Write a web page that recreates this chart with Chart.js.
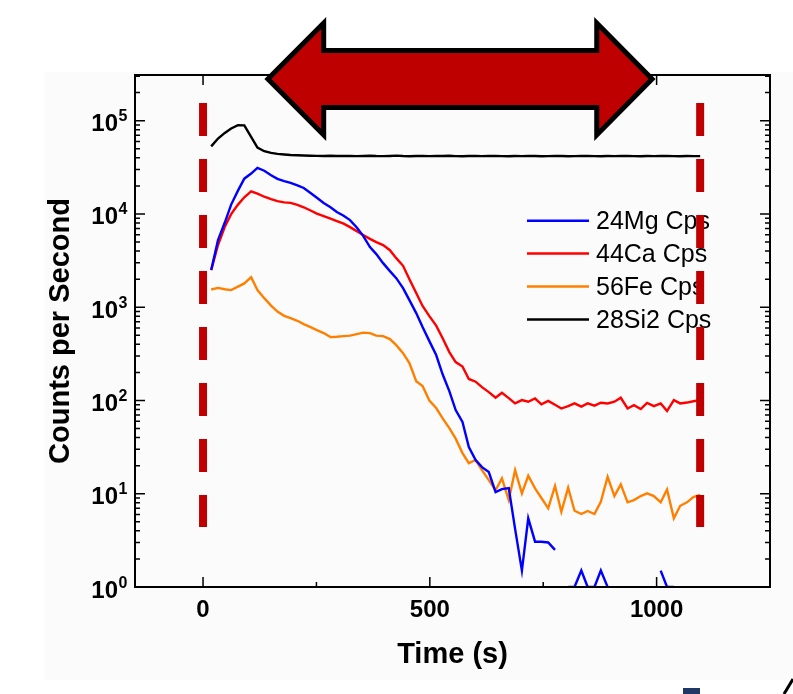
<!DOCTYPE html>
<html>
<head>
<meta charset="utf-8">
<title>Counts per Second</title>
<script src="https://cdn.jsdelivr.net/npm/chart.js@4.4.0/dist/chart.umd.min.js"></script>
<style>
	body { margin: 0; background: #fff; }
	canvas { display: block; }
</style>
</head>
<body>
<canvas id="depthChart" width="793" height="694"></canvas>
<script>
// time axis (s)
const timeS = [
	18, 33, 48, 62, 77, 91, 106, 120, 135, 150,
	164, 179, 193, 208, 222, 237, 251, 266, 281, 295,
	310, 324, 339, 353, 368, 382, 397, 412, 426, 441,
	455, 470, 484, 499, 514, 528, 543, 557, 572, 586,
	601, 615, 630, 645, 659, 674, 688, 703, 717, 732,
	746, 761, 776, 790, 805, 819, 834, 848, 863, 877,
	892, 907, 921, 936, 950, 965, 979, 994, 1009, 1023,
	1038, 1052, 1067, 1081, 1096,
];

const mg24 = [
	2500, 5240, 8090, 12600, 17800, 23900, 27100, 31200, 29100, 26000,
	23800, 22500, 21500, 20300, 19000, 16800, 14900, 13100, 11800, 10500,
	9550, 8590, 7170, 5830, 4410, 3710, 2970, 2440, 2050, 1600,
	1190, 865, 612, 433, 307, 192, 126, 79, 59, 31.7,
	23, 19.3, 17.1, 10.4, 11.2, 11.5, 4.2, 1.5, 5.45, 3.06,
	3.06, 3.0, 2.5, null, 1, 1, 1.5, 1, 1, 1.5,
	1, null, null, null, null, null, null, null, 1.5, 1,
	1, null, null, null, null,
];

const ca44 = [
	2500, 4650, 7280, 9950, 12600, 15100, 17500, 16500, 15300, 14400,
	13700, 13300, 13150, 12500, 11800, 10900, 10100, 9470, 8900, 8370,
	7870, 7220, 6540, 5960, 5410, 4990, 4630, 4090, 3360, 2780,
	2000, 1420, 1030, 803, 635, 467, 330, 258, 231, 170,
	159, 139, 123, 107, 121, 106, 93, 101, 97, 105,
	91, 99, 90, 82, 87, 93, 86, 93, 88, 94.5,
	93, 97, 107, 82, 89, 81, 94, 87, 93, 77,
	101, 93, 95, 98, 101,
];

const fe56 = [
	1550, 1610, 1560, 1525, 1660, 1800, 2100, 1525, 1250, 1040,
	897, 809, 764, 715, 659, 612, 568, 528, 478, 482,
	490, 496, 515, 534, 528, 496, 490, 455, 392, 322,
	252, 161, 143, 99.7, 83, 64.8, 50.6, 39, 27.3, 21.3,
	23, 17.9, 14, 10.9, 14.6, 8.56, 17.9, 10.1, 15.6, 11.4,
	9.0, 6.98, 12.1, 6.41, 11.6, 6.57, 6.06, 6.53, 6.06, 8.2,
	15.2, 9.45, 12.6, 8.09, 8.56, 9.45, 10.1, 9.45, 8.09, 11.1,
	5.45, 7.43, 8.09, 9.2, 9.7,
];

const si28 = [
	53000, 64400, 74000, 82500, 89500, 89000, 67000, 51600, 47100, 45200,
	44100, 43400, 42900, 42600, 42300, 42100, 42000, 41900, 42100, 41800,
	41900, 42000, 41700, 41900, 42100, 41800, 41700, 41900, 42200, 41800,
	41600, 41800, 42000, 41700, 41900, 41800, 42100, 41700, 41600, 41800,
	41900, 41700, 41800, 42000, 41700, 41600, 41800, 41700, 41900, 41800,
	41600, 41700, 41900, 41800, 41600, 41700, 41800, 41900, 41700, 41600,
	41800, 41700, 41900, 41800, 41700, 41600, 41800, 41700, 41900, 41800,
	41700, 41600, 41800, 41700, 41700,
];

const seriesNames = ["24Mg Cps", "44Ca Cps", "56Fe Cps", "28Si2 Cps"];
const seriesValues = [mg24, ca44, fe56, si28];
const seriesColors = ["#0000ff", "#ff0000", "#ff8000", "#000000"];

const xTicks = [0, 500, 1000];
const xMinorTicks = [250, 750];
const yTickExps = [0, 1, 2, 3, 4, 5];

// dashed markers and arrow (time in s)
const markerTimes = [0, 1096];
const markerRange = [155000, 4.4];
const arrowTimes = [143, 266, 868, 990];

const FONT = '"Liberation Sans", Arial, Helvetica, sans-serif';

const toPoints = (ys) => timeS.map((t, i) => ({ x: t, y: ys[i] }));

const drawLegend = (chart) => {
	var ctx = chart.ctx;
	var area = chart.chartArea;
	ctx.save();
	ctx.font = "25px " + FONT;
	ctx.textAlign = "left";
	ctx.textBaseline = "alphabetic";
	seriesNames.forEach((name, i) => {
		var y = 220.7 + 32.9 * i;
		ctx.strokeStyle = seriesColors[i];
		ctx.lineWidth = 2.5;
		ctx.beginPath();
		ctx.moveTo(area.left + 392, y);
		ctx.lineTo(area.left + 454, y);
		ctx.stroke();
		ctx.fillStyle = "#000";
		ctx.fillText(name, area.left + 461, y + 8.5);
	});
	ctx.restore();
};

const drawAxes = (chart) => {
	var ctx = chart.ctx;
	var a = chart.chartArea;
	var xs = chart.scales.x;
	var ys = chart.scales.y;
	ctx.save();
	ctx.strokeStyle = "#000";
	ctx.lineWidth = 2;
	ctx.strokeRect(a.left, a.top, a.right - a.left, a.bottom - a.top);

	ctx.lineWidth = 1.5;
	ctx.beginPath();
	xTicks.concat(xMinorTicks).forEach((v) => {
		var x = xs.getPixelForValue(v);
		var len = xTicks.includes(v) ? 10 : 5;
		ctx.moveTo(x, a.bottom);
		ctx.lineTo(x, a.bottom - len);
		ctx.moveTo(x, a.top);
		ctx.lineTo(x, a.top + len);
	});
	yTickExps.forEach((e) => {
		for (var m = 1; m <= 9; m++) {
			var v = m * Math.pow(10, e);
			if (v > ys.max) break;
			var y = ys.getPixelForValue(v);
			var len = m === 1 ? 10 : 5;
			ctx.moveTo(a.left, y);
			ctx.lineTo(a.left + len, y);
			ctx.moveTo(a.right, y);
			ctx.lineTo(a.right - len, y);
		}
	});
	ctx.stroke();

	// y labels as 10 with superscript exponent
	ctx.fillStyle = "#000";
	yTickExps.forEach((e) => {
		var y = ys.getPixelForValue(Math.pow(10, e));
		ctx.font = "bold 24px " + FONT;
		ctx.textAlign = "right";
		ctx.textBaseline = "alphabetic";
		ctx.fillText("10", a.left - 17, y + 10.5);
		ctx.font = "bold 16px " + FONT;
		ctx.textAlign = "left";
		ctx.fillText(String(e), a.left - 16.5, y + 0.5);
	});
	ctx.restore();
};

const drawArrow = (chart) => {
	var ctx = chart.ctx;
	var xs = chart.scales.x;
	var p = arrowTimes.map((t) => xs.getPixelForValue(t));
	var cy = chart.chartArea.top + 4;
	var head = 56;
	var shaft = 28.5;
	ctx.save();
	ctx.beginPath();
	ctx.moveTo(p[0], cy);
	ctx.lineTo(p[1], cy - head);
	ctx.lineTo(p[1], cy - shaft);
	ctx.lineTo(p[2], cy - shaft);
	ctx.lineTo(p[2], cy - head);
	ctx.lineTo(p[3], cy);
	ctx.lineTo(p[2], cy + head);
	ctx.lineTo(p[2], cy + shaft);
	ctx.lineTo(p[1], cy + shaft);
	ctx.lineTo(p[1], cy + head);
	ctx.closePath();
	ctx.fillStyle = "#be0000";
	ctx.fill();
	ctx.lineWidth = 5;
	ctx.lineJoin = "miter";
	ctx.strokeStyle = "#000";
	ctx.stroke();
	ctx.restore();
};

const decorPlugin = {
	id: "decor",
	beforeDraw(chart) {
		var ctx = chart.ctx;
		ctx.save();
		ctx.fillStyle = "#fff";
		ctx.fillRect(0, 0, chart.width, chart.height);
		ctx.fillStyle = "#fbfbfb";
		ctx.fillRect(45, 72, chart.width - 45, 608);
		ctx.restore();
	},
	beforeDatasetsDraw(chart) {
		drawLegend(chart);
	},
	afterDraw(chart) {
		drawAxes(chart);
		drawArrow(chart);
		// slide bits in the lower right corner
		var ctx = chart.ctx;
		ctx.save();
		ctx.fillStyle = "#1f3864";
		ctx.fillRect(683, 688, 17, 6);
		ctx.strokeStyle = "#000";
		ctx.lineWidth = 3;
		ctx.beginPath();
		ctx.moveTo(784, 694);
		ctx.lineTo(793, 679);
		ctx.stroke();
		ctx.restore();
	},
};

var datasets = markerTimes.map((t) => ({
	label: "marker",
	data: [{ x: t, y: markerRange[0] }, { x: t, y: markerRange[1] }],
	borderColor: "#c00000",
	borderWidth: 8,
	borderDash: [33, 23],
	borderCapStyle: "butt",
	pointRadius: 0,
}));

seriesNames.forEach((name, i) => {
	datasets.push({
		label: name,
		data: toPoints(seriesValues[i]),
		borderColor: seriesColors[i],
		borderWidth: 2.4,
		pointRadius: 0,
		tension: 0,
		spanGaps: false,
	});
});

new Chart(document.getElementById("depthChart"), {
	type: "line",
	data: { datasets: datasets },
	options: {
		responsive: false,
		animation: false,
		layout: { padding: { top: 75, right: 23, left: 0, bottom: 0 } },
		plugins: { legend: { display: false }, tooltip: { enabled: false } },
		scales: {
			x: {
				type: "linear",
				min: -150,
				max: 1250,
				afterBuildTicks: (s) => {
					s.ticks = xTicks.map((v) => ({ value: v }));
				},
				afterFit: (s) => {
					s.height = 107;
				},
				grid: { display: false, drawTicks: false },
				border: { display: false },
				ticks: {
					color: "#000",
					padding: 9,
					autoSkip: false,
					maxRotation: 0,
					font: { family: FONT, size: 24, weight: "bold" },
					callback: (v) => String(v),
				},
				title: {
					display: true,
					text: "Time (s)",
					color: "#000",
					font: { family: FONT, size: 29, weight: "bold" },
					padding: { top: 0, bottom: 22 },
				},
			},
			y: {
				type: "logarithmic",
				min: 1,
				max: 309000,
				afterFit: (s) => {
					s.width = 135;
				},
				grid: { display: false, drawTicks: false },
				border: { display: false },
				ticks: { display: false },
				title: {
					display: true,
					text: "Counts per Second",
					color: "#000",
					font: { family: FONT, size: 29, weight: "bold" },
					padding: { top: 44, bottom: 0 },
				},
			},
		},
	},
	plugins: [decorPlugin],
});
</script>
</body>
</html>
